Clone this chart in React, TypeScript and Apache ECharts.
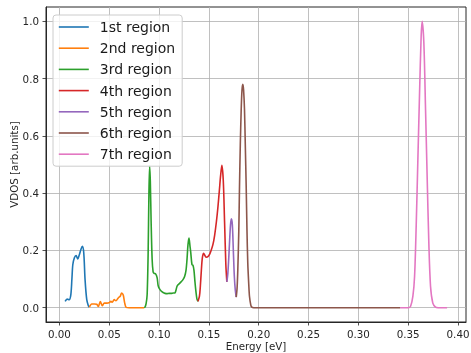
import React, { useEffect, useRef } from "react";
import * as echarts from "echarts";

const regionNames = ["1st region", "2nd region", "3rd region", "4th region", "5th region", "6th region", "7th region"];
const regionColors = ["#1f77b4", "#ff7f0e", "#2ca02c", "#d62728", "#9467bd", "#8c564b", "#e377c2"];

const x1 = [0.0057, 0.0077, 0.0097, 0.0114, 0.0125, 0.0134, 0.015, 0.0167, 0.0184, 0.0197, 0.0217, 0.023, 0.0244, 0.0257, 0.0274, 0.029, 0.030];
const y1 = [0.022, 0.030, 0.028, 0.045, 0.10, 0.150, 0.174, 0.182, 0.170, 0.182, 0.205, 0.214, 0.191, 0.098, 0.028, 0.007, 0.002];

const x2 = [0.030, 0.0324, 0.035, 0.0374, 0.039, 0.041, 0.043, 0.045, 0.0474, 0.0497, 0.0517, 0.053, 0.055, 0.0567, 0.059, 0.061, 0.0624, 0.064, 0.0655, 0.067, 0.070, 0.075, 0.080, 0.085];
const y2 = [0.002, 0.013, 0.013, 0.012, 0.004, 0.021, 0.007, 0.016, 0.016, 0.017, 0.022, 0.019, 0.028, 0.024, 0.034, 0.040, 0.051, 0.044, 0.016, 0.001, 0, 0, 0, 0];

const x3 = [0.085, 0.086, 0.087, 0.088, 0.089, 0.0898, 0.0905, 0.0912, 0.092, 0.093, 0.094, 0.095, 0.0965, 0.098, 0.099, 0.100, 0.102, 0.104, 0.106, 0.108, 0.110, 0.112, 0.114, 0.116, 0.117, 0.118, 0.119, 0.120, 0.122, 0.124, 0.1257, 0.127, 0.128, 0.129, 0.130, 0.131, 0.1317, 0.133, 0.134, 0.135, 0.136, 0.137, 0.138, 0.139];
const y3 = [0, 0.003, 0.015, 0.045, 0.19, 0.40, 0.495, 0.44, 0.30, 0.17, 0.125, 0.12, 0.118, 0.105, 0.078, 0.068, 0.058, 0.053, 0.050, 0.049, 0.050, 0.050, 0.051, 0.052, 0.062, 0.075, 0.080, 0.083, 0.090, 0.098, 0.110, 0.130, 0.168, 0.220, 0.243, 0.215, 0.195, 0.150, 0.148, 0.130, 0.090, 0.055, 0.030, 0.022];

const x4 = [0.139, 0.1405, 0.1414, 0.1424, 0.1434, 0.1447, 0.146, 0.1474, 0.149, 0.1505, 0.152, 0.154, 0.1557, 0.1575, 0.159, 0.1605, 0.1617, 0.163, 0.1644, 0.1657, 0.167, 0.168];
const y4 = [0.022, 0.04, 0.075, 0.13, 0.174, 0.19, 0.182, 0.176, 0.178, 0.185, 0.198, 0.220, 0.252, 0.30, 0.35, 0.41, 0.46, 0.497, 0.445, 0.30, 0.15, 0.09];

const x5 = [0.168, 0.169, 0.170, 0.171, 0.1717, 0.1725, 0.1735, 0.1745, 0.1755, 0.1765, 0.1774];
const y5 = [0.09, 0.12, 0.18, 0.25, 0.29, 0.31, 0.29, 0.20, 0.11, 0.06, 0.037];

const x6 = [0.1774, 0.1783, 0.179, 0.180, 0.1807, 0.1815, 0.1824, 0.1832, 0.184, 0.1848, 0.1857, 0.1865, 0.1874, 0.1882, 0.189, 0.190, 0.1907, 0.192, 0.193, 0.195, 0.20, 0.25, 0.30, 0.342];
const y6 = [0.037, 0.07, 0.133, 0.27, 0.424, 0.57, 0.692, 0.76, 0.780, 0.76, 0.692, 0.57, 0.424, 0.27, 0.156, 0.08, 0.040, 0.01, 0.002, 0, 0, 0, 0, 0];

const x7 = [0.342, 0.35, 0.3524, 0.3547, 0.3564, 0.358, 0.3597, 0.3614, 0.363, 0.364, 0.3657, 0.3674, 0.369, 0.3707, 0.3724, 0.3747, 0.3774, 0.380, 0.389];
const y7 = [0, 0, 0.005, 0.04, 0.11, 0.284, 0.517, 0.751, 0.949, 1.0, 0.925, 0.692, 0.459, 0.226, 0.075, 0.016, 0.002, 0, 0];

const xTicks = [0, 0.05, 0.1, 0.15, 0.2, 0.25, 0.3, 0.35, 0.4];
const yTicks = [0, 0.2, 0.4, 0.6, 0.8, 1.0];

const regionsX = [x1, x2, x3, x4, x5, x6, x7];
const regionsY = [y1, y2, y3, y4, y5, y6, y7];

const FONT = "DejaVu Sans";
const INK = "#262626";

export default function App() {
  const ref = useRef<HTMLDivElement>(null);
  useEffect(() => {
    if (!ref.current) return;
    const chart = echarts.init(ref.current, undefined, { renderer: "svg" });
    const series = regionNames.map((name, i) => ({
      name,
      type: "line",
      data: regionsX[i].map((x, j) => [x, regionsY[i][j]]),
      showSymbol: false,
      symbol: "none",
      smooth: 0.3,
      color: regionColors[i],
      lineStyle: { width: 1.6, color: regionColors[i] },
    }));
    chart.setOption({
      animation: false,
      textStyle: { fontFamily: FONT },
      grid: {
        left: 46, right: 5, top: 7, bottom: 31,
        outerBoundsMode: "none",
        containLabel: false,
        show: true, borderColor: INK, borderWidth: 1, backgroundColor: "transparent",
      },
      legend: {
        orient: "vertical",
        left: 53,
        top: 15,
        itemWidth: 30,
        itemHeight: 14,
        itemGap: 7.2,
        padding: [5, 7, 5, 5],
        borderColor: "#cccccc",
        borderWidth: 1,
        borderRadius: 3,
        backgroundColor: "rgba(255,255,255,0.8)",
        itemStyle: { opacity: 0 },
        lineStyle: { width: 1.6 },
        textStyle: { fontSize: 14, color: "#1a1a1a", fontFamily: FONT, padding: [0, 0, 0, 6] },
        data: regionNames,
      },
      xAxis: {
        type: "value",
        min: -0.0135,
        max: 0.408,
        name: "Energy [eV]",
        nameLocation: "middle",
        nameGap: 19,
        nameMoveOverlap: false,
        nameTextStyle: { fontSize: 10.3, color: INK, fontFamily: FONT, verticalAlign: "top" },
        axisLine: { show: true, onZero: false, lineStyle: { color: INK, width: 1 } },
        axisTick: { show: true, length: 3.5, customValues: xTicks, lineStyle: { color: INK, width: 0.8 } },
        axisLabel: {
          customValues: xTicks,
          formatter: (v: number) => v.toFixed(2),
          fontSize: 10.3, color: INK, fontFamily: FONT, margin: 7,
        },
        splitLine: { show: true, lineStyle: { color: "#b0b0b0", width: 0.8 } },
      },
      yAxis: {
        type: "value",
        min: -0.05,
        max: 1.05,
        name: "VDOS [arb.units]",
        nameLocation: "middle",
        nameGap: 27,
        nameMoveOverlap: false,
        nameRotate: 90,
        nameTextStyle: { fontSize: 10.3, color: INK, fontFamily: FONT },
        axisLine: { show: true, onZero: false, lineStyle: { color: INK, width: 1 } },
        axisTick: { show: true, length: 3.5, customValues: yTicks, lineStyle: { color: INK, width: 0.8 } },
        axisLabel: {
          customValues: yTicks,
          formatter: (v: number) => v.toFixed(1),
          fontSize: 10.3, color: INK, fontFamily: FONT, margin: 7,
        },
        splitLine: { show: true, lineStyle: { color: "#b0b0b0", width: 0.8 } },
      },
      series,
    });
    return () => chart.dispose();
  }, []);
  return <div ref={ref} style={{ position: "fixed", left: 0, top: 0, width: 471, height: 353 }} />;
}
